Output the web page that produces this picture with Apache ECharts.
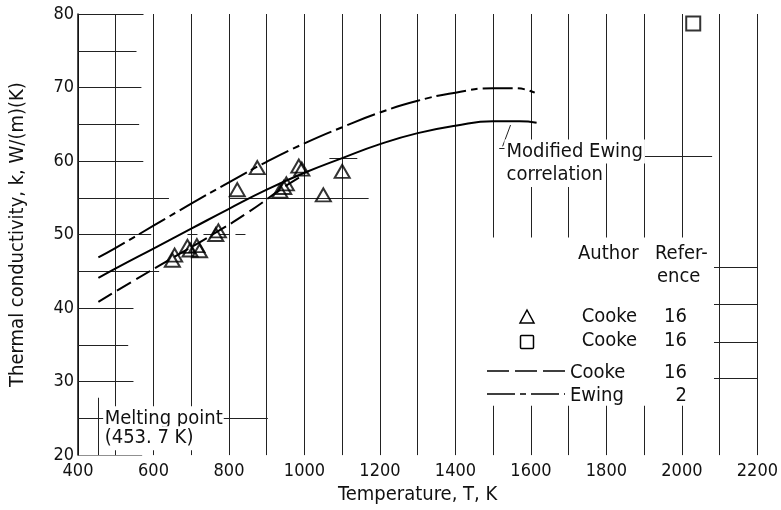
<!DOCTYPE html>
<html><head><meta charset="utf-8">
<script src="https://cdn.jsdelivr.net/npm/echarts/dist/echarts.min.js"></script>
<style>html,body{margin:0;padding:0;background:#fff}#c{width:781px;height:510px}</style>
</head><body><div id="c"></div>
<script>
const FONT_FAMILY = '"DejaVu Sans Condensed","Liberation Sans Narrow","Liberation Sans",sans-serif';

// Axis tick labels
const xTickLabels = [400, 600, 800, 1000, 1200, 1400, 1600, 1800, 2000, 2200];
const yTickLabels = [20, 30, 40, 50, 60, 70, 80];

// Cooke (ref 16) measured points - triangles
const triT = [650, 656, 690, 697, 715, 722, 765, 772, 822, 875, 935, 945, 952, 985, 993, 1050, 1100];
const triK = [46.5, 47.2, 48.4, 47.9, 48.5, 47.8, 50.0, 50.5, 56.1, 59.1, 55.9, 56.4, 56.9, 59.3, 58.9, 55.4, 58.6];
// Cooke (ref 16) - square
const sqT = [2030];
const sqK = [78.7];

// Ewing (ref 2) chain-dashed curve
const ewingT = [454, 500, 600, 700, 800, 900, 1000, 1100, 1200, 1300, 1400, 1500, 1560, 1610];
const ewingK = [46.9, 48.2, 51.2, 54.2, 57.1, 59.9, 62.4, 64.6, 66.6, 68.2, 69.3, 69.9, 69.9, 69.3];
// Modified Ewing correlation (solid)
const modT = [454, 500, 600, 700, 800, 900, 1000, 1100, 1200, 1300, 1400, 1500, 1570, 1615];
const modK = [44.1, 45.4, 48.1, 50.8, 53.5, 56.1, 58.4, 60.4, 62.3, 63.8, 64.8, 65.4, 65.4, 65.2];
// Cooke (ref 16) dashed curve
const cookeT = [454, 550, 650, 750, 850, 950, 1000];
const cookeK = [40.85, 43.8, 46.8, 49.8, 53.0, 56.6, 58.2];

// Decorative grid fragments of the original graph paper (value-space)
const leftTickVals = [25, 30, 35, 40, 45, 50, 55, 60, 65, 70, 75, 80];
const leftTickEnds = [467, 547, 533, 547, 615, 594, 641, 573, 562, 568, 555, 573];
const extraSegs = [
  [[800, 55], [1170, 55]],
  [[1066, 60.4], [1140, 60.4]],
  [[760, 25], [903, 25]],
  [[1886, 60.6], [2080, 60.6]],
  [[2074, 45.6], [2200, 45.6]],
  [[2074, 40.5], [2200, 40.5]],
  [[2074, 35.4], [2200, 35.4]],
  [[2074, 30.5], [2200, 30.5]],
  [[400, 20], [570, 20]],
  [[453.7, 20], [453.7, 27.8]],
  [[1546, 64.9], [1525, 62.0]],
  [[1516, 61.7], [1532, 61.7]]
];
const dashedSegs = [
  [[400, 80], [573, 80]],
  [[690, 50], [850, 50]]
];

const toPairs = (xs, ys) => xs.map((x, i) => [x, ys[i]]);
const segData = leftTickVals.map((v, i) => ({coords: [[400, v], [leftTickEnds[i], v]]}))
  .concat(extraSegs.map(s => ({coords: s})));

const chart = echarts.init(document.getElementById('c'), null, {renderer: 'canvas'});
const ink = '#111';
const option = {
  animation: false,
  backgroundColor: '#fff',
  textStyle: {fontFamily: FONT_FAMILY},
  grid: {left: 76, right: 18, top: 14, bottom: 49, containLabel: false},
  xAxis: {
    type: 'value', min: 400, max: 2200, interval: 100,
    axisLine: {show: false}, axisTick: {show: false},
    axisLabel: {
      fontSize: 18, color: ink, margin: 7, fontFamily: FONT_FAMILY,
      formatter: v => xTickLabels.includes(v) ? String(v) : ''
    },
    splitLine: {show: true, lineStyle: {color: '#222', width: 1}},
    name: 'Temperature, T, K', nameLocation: 'middle', nameGap: 27,
    nameTextStyle: {fontSize: 20, color: ink, fontFamily: FONT_FAMILY}
  },
  yAxis: {
    type: 'value', min: 20, max: 80, interval: 10,
    axisLine: {show: true, lineStyle: {color: ink, width: 1.5}},
    axisTick: {show: false},
    axisLabel: {fontSize: 18, color: ink, margin: 4, fontFamily: FONT_FAMILY,
      formatter: v => yTickLabels.includes(v) ? String(v) : ''},
    splitLine: {show: false},
    name: 'Thermal conductivity, k, W/(m)(K)', nameLocation: 'middle', nameGap: 50, nameRotate: 90,
    nameTextStyle: {fontSize: 20, color: ink, fontFamily: FONT_FAMILY}
  },
  series: [
    {type: 'lines', coordinateSystem: 'cartesian2d', silent: true, z: 1,
     lineStyle: {color: '#222', width: 1, opacity: 1}, data: segData},
    {type: 'lines', coordinateSystem: 'cartesian2d', silent: true, z: 1,
     lineStyle: {color: '#222', width: 1, opacity: 1, type: [10, 6]},
     data: dashedSegs.map(s => ({coords: s}))},
    {name: 'Ewing', type: 'line', smooth: true, showSymbol: false, z: 3,
     lineStyle: {color: '#000', width: 2, type: [30, 5, 7, 5]}, data: toPairs(ewingT, ewingK)},
    {name: 'Modified Ewing', type: 'line', smooth: true, showSymbol: false, z: 3,
     lineStyle: {color: '#000', width: 2}, data: toPairs(modT, modK)},
    {name: 'Cooke line', type: 'line', smooth: true, showSymbol: false, z: 3,
     lineStyle: {color: '#000', width: 2, type: [16, 6]}, data: toPairs(cookeT, cookeK)},
    {name: 'Cooke tri', type: 'scatter', symbol: 'triangle', symbolSize: [15, 13], z: 4,
     itemStyle: {color: 'rgba(0,0,0,0)', borderColor: '#000', borderWidth: 2},
     data: toPairs(triT, triK)},
    {name: 'Cooke sq', type: 'scatter', symbol: 'rect', symbolSize: [14, 14], z: 4,
     itemStyle: {color: 'rgba(0,0,0,0)', borderColor: '#000', borderWidth: 2},
     data: toPairs(sqT, sqK)}
  ]
};
chart.setOption(option);

const P = (x, y) => chart.convertToPixel({gridIndex: 0}, [x, y]);
const txt = (x, y, text, opts) => Object.assign({
  type: 'text', z: 100, x, y,
  style: Object.assign({text, fill: ink, font: '20px ' + FONT_FAMILY, verticalAlign: 'middle', align: 'left'}, opts || {})
});
const mA = P(1530, 61.3), mB = P(1530, 58.1);
const melt1 = P(468, 25), melt2 = P(468, 22.3);
const legRectA = P(1450, 49.6), legRectB = P(2085, 26.7);

chart.setOption({
  graphic: [
    {type: 'rect', z: 90, shape: {x: legRectA[0], y: legRectA[1], width: legRectB[0] - legRectA[0], height: legRectB[1] - legRectA[1]}, style: {fill: '#fff'}},
    txt(mA[0], mA[1], 'Modified Ewing', {backgroundColor: '#fff', padding: [2, 2]}),
    txt(mB[0], mB[1], 'correlation', {backgroundColor: '#fff', padding: [2, 2]}),
    txt(melt1[0], melt1[1], 'Melting point', {backgroundColor: '#fff', padding: [2, 1]}),
    txt(melt2[0], melt2[1], '(453. 7 K)', {backgroundColor: '#fff', padding: [2, 1]}),
    // legend table
    txt(578, 254, 'Author'),
    txt(655, 254, 'Refer-'),
    txt(657, 277, 'ence'),
    {type: 'polygon', z: 100, shape: {points: [[527, 310], [534, 323], [520, 323]]}, style: {fill: 'none', stroke: '#000', lineWidth: 1.5}},
    {type: 'rect', z: 100, shape: {x: 520.5, y: 335.5, width: 13, height: 13, r: 1}, style: {fill: 'none', stroke: '#000', lineWidth: 1.5}},
    txt(637, 317, 'Cooke', {align: 'right'}),
    txt(687, 317, '16', {align: 'right'}),
    txt(637, 341, 'Cooke', {align: 'right'}),
    txt(687, 341, '16', {align: 'right'}),
    {type: 'line', z: 100, shape: {x1: 487, y1: 371, x2: 565, y2: 371}, style: {stroke: '#000', lineWidth: 1.5, lineDash: [22, 6]}},
    txt(570, 373, 'Cooke'),
    txt(687, 373, '16', {align: 'right'}),
    {type: 'line', z: 100, shape: {x1: 487, y1: 394, x2: 565, y2: 394}, style: {stroke: '#000', lineWidth: 1.5, lineDash: [28, 5, 6, 5]}},
    txt(570, 396, 'Ewing'),
    txt(687, 396, '2', {align: 'right'})
  ]
});
</script>
</body></html>
